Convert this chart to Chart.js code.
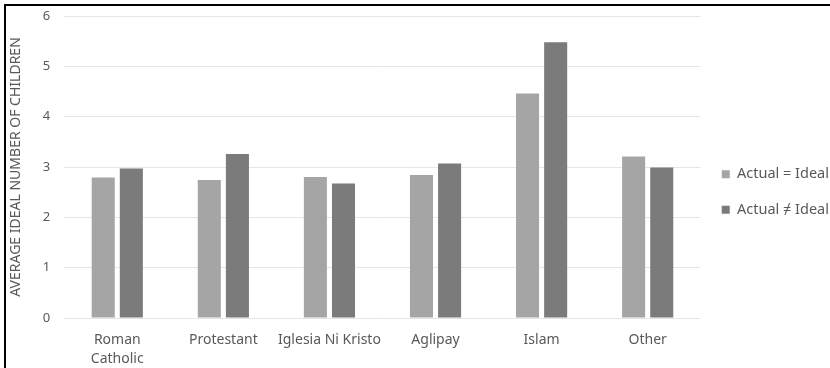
<!DOCTYPE html>
<html>
<head>
<meta charset="utf-8">
<script src="https://cdn.jsdelivr.net/npm/chart.js@4"></script>
<style>
  html, body { margin: 0; padding: 0; background: #fff; overflow: hidden; }
  #frame {
    position: absolute; left: 4px; top: 4px; width: 826px; height: 364px;
    border-left: 2px solid #000; border-top: 2px solid #000; box-sizing: border-box;
  }
  /* a bit wider than the window so the legend hugs the right edge */
  #wrap { position: absolute; left: 2px; top: 2px; width: 831px; height: 360px; }
</style>
</head>
<body>
<div id="frame"><div id="wrap"><canvas id="idealChart"></canvas></div></div>
<script>
const religions = [['Roman', 'Catholic'], 'Protestant', 'Iglesia Ni Kristo', 'Aglipay', 'Islam', 'Other'];
const actualEqualsIdeal = [2.79, 2.74, 2.80, 2.84, 4.46, 3.21];
const actualNotIdeal = [2.97, 3.26, 2.67, 3.07, 5.48, 2.99];
const yTicks = [0, 1, 2, 3, 4, 5, 6];

document.addEventListener('DOMContentLoaded', function () {
    let ctx = document.getElementById('idealChart').getContext('2d');
    Chart.defaults.font.family = "'Noto Sans', sans-serif";
    Chart.defaults.color = '#595959';

    new Chart(ctx, {
        type: 'bar',
        data: {
            labels: religions,
            datasets: [{
                label: 'Actual = Ideal',
                data: actualEqualsIdeal,
                backgroundColor: '#a5a5a5',
                categoryPercentage: 0.53,
                barPercentage: 0.82
            },
            {
                label: 'Actual \u2260 Ideal',
                data: actualNotIdeal,
                backgroundColor: '#7b7b7b',
                categoryPercentage: 0.53,
                barPercentage: 0.82
            }]
        },
        options: {
            responsive: true,
            maintainAspectRatio: false,
            animation: false,
            layout: { padding: { top: 8, right: 0, bottom: 0, left: 0 } },
            plugins: {
                legend: {
                    position: 'right',
                    labels: {
                        boxWidth: 8,
                        boxHeight: 8,
                        padding: 21,
                        font: { size: 14.5 },
                        color: '#595959'
                    }
                },
                tooltip: { enabled: false }
            },
            scales: {
                x: {
                    grid: { display: false, drawTicks: false },
                    border: { display: false },
                    ticks: { font: { size: 14, lineHeight: 1.35 }, padding: 13, maxRotation: 0, autoSkip: false },
                    afterFit: function (scale) { scale.height = 50; }
                },
                y: {
                    min: 0,
                    max: 6,
                    afterBuildTicks: function (axis) {
                        axis.ticks = yTicks.map(function (v) { return { value: v }; });
                    },
                    afterFit: function (scale) { scale.paddingTop = 0; },
                    grid: { color: '#e6e6e6', drawTicks: false },
                    border: { display: false },
                    ticks: { font: { size: 13 }, padding: 14 },
                    title: {
                        display: true,
                        text: 'AVERAGE IDEAL NUMBER OF CHILDREN',
                        font: { size: 14 },
                        color: '#595959',
                        padding: { top: 0, bottom: 4 }
                    }
                }
            }
        }
    });
});
</script>
</body>
</html>
